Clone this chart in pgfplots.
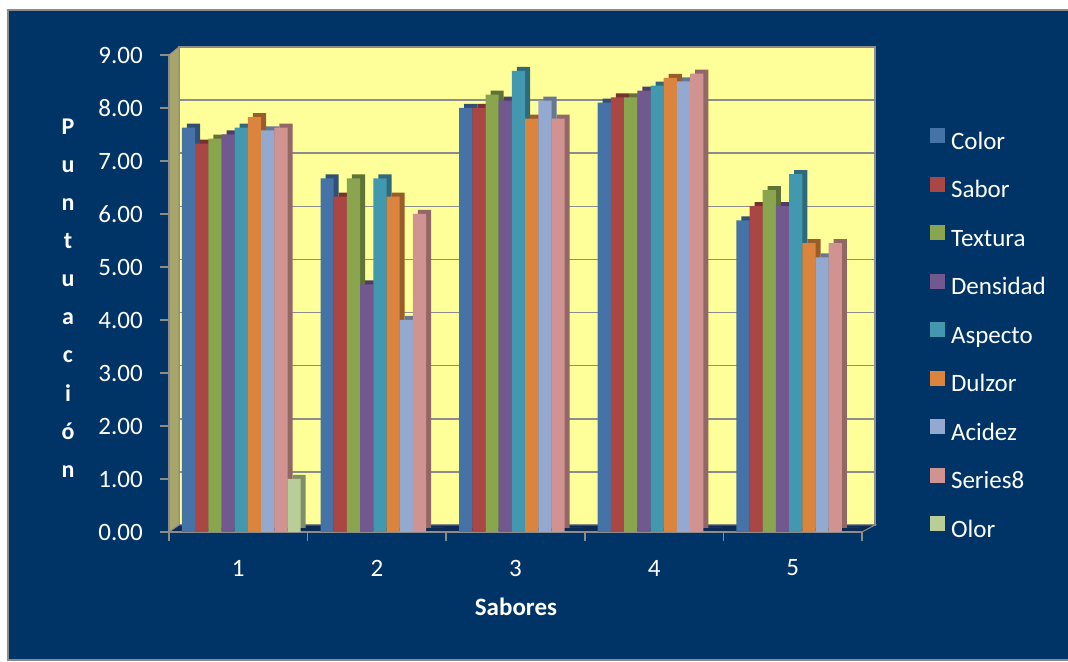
\documentclass[border=0pt]{standalone}
\usepackage{pgfplots}
\pgfplotsset{compat=1.18}
\usepackage{pgfplotstable}
\usepackage{fontspec}
\setmainfont{Carlito}

\definecolor{navy}{HTML}{003366}
\definecolor{floorc}{HTML}{0C2A52}
\definecolor{wally}{HTML}{FFFF99}
\definecolor{wallside}{HTML}{A8A56C}
\definecolor{edge}{HTML}{8C8C8C}
\definecolor{c1}{HTML}{4572A7}
\definecolor{c2}{HTML}{AA4643}
\definecolor{c3}{HTML}{89A54E}
\definecolor{c4}{HTML}{71588F}
\definecolor{c5}{HTML}{4198AF}
\definecolor{c6}{HTML}{DB843D}
\definecolor{c7}{HTML}{93A9CF}
\definecolor{c8}{HTML}{D19392}
\definecolor{c9}{HTML}{B9CD96}

\pgfplotstableread{
x Color Sabor Textura Densidad Aspecto Dulzor Acidez Series8 Olor
1 7.63 7.33 7.42 7.50 7.63 7.83 7.58 7.63 1.00
2 6.67 6.33 6.67 4.67 6.67 6.33 4.00 6.00 0
3 8.00 8.00 8.25 8.14 8.70 7.80 8.14 7.80 0
4 8.10 8.20 8.20 8.33 8.42 8.57 8.50 8.65 0
5 5.88 6.15 6.45 6.15 6.75 5.45 5.18 5.45 0
}\data

\newcommand{\fnt}{\fontsize{25bp}{30bp}\selectfont}

\begin{document}
\begin{tikzpicture}
\path[use as bounding box] (0,0) rectangle (1068bp,662bp);
\fill[white] (0,0) rectangle (1068bp,662bp);
\fill[navy] (8bp,2bp) rectangle (1068bp,652bp);
\draw[edge, line width=1.5bp] (1068bp,2bp) -- (8bp,2bp) -- (8bp,652bp) -- (1068bp,652bp);

% back wall
\begin{axis}[at={(179bp,137bp)}, anchor=south west, scale only axis,
  width=696bp, height=478bp, xmin=0, xmax=1, ymin=0, ymax=9,
  xtick=\empty, ytick={0,...,9}, yticklabels={}, major tick length=0pt,
  ymajorgrids, grid style={edge, line width=1.5bp},
  axis line style={edge, line width=1.5bp},
  axis background/.style={fill=wally}]
\end{axis}

% left wall and floor
\fill[wallside, draw=edge, line width=1bp] (169bp,130bp) -- (179bp,137bp) -- (179bp,615bp) -- (169bp,607bp) -- cycle;
\fill[floorc, draw=edge, line width=1bp] (169bp,130bp) -- (862bp,130bp) -- (875bp,137bp) -- (179bp,137bp) -- cycle;

% shadow (side/top faces)
\begin{axis}[at={(174bp,134bp)}, anchor=south west, scale only axis,
  width=693bp, height=477bp, xmin=0.5, xmax=5.5, ymin=0, ymax=9,
  hide axis, clip=false]
\addplot[ybar, bar width=13.2bp, bar shift=-49.8bp, fill=c1!70!black, draw=none] table[x=x,y=Color] {\data};
\addplot[ybar, bar width=13.2bp, bar shift=-36.6bp, fill=c2!70!black, draw=none] table[x=x,y=Sabor] {\data};
\addplot[ybar, bar width=13.2bp, bar shift=-23.4bp, fill=c3!70!black, draw=none] table[x=x,y=Textura] {\data};
\addplot[ybar, bar width=13.2bp, bar shift=-10.2bp, fill=c4!70!black, draw=none] table[x=x,y=Densidad] {\data};
\addplot[ybar, bar width=13.2bp, bar shift=3bp, fill=c5!70!black, draw=none] table[x=x,y=Aspecto] {\data};
\addplot[ybar, bar width=13.2bp, bar shift=16.2bp, fill=c6!70!black, draw=none] table[x=x,y=Dulzor] {\data};
\addplot[ybar, bar width=13.2bp, bar shift=29.4bp, fill=c7!70!black, draw=none] table[x=x,y=Acidez] {\data};
\addplot[ybar, bar width=13.2bp, bar shift=42.6bp, fill=c8!70!black, draw=none] table[x=x,y=Series8] {\data};
\addplot[ybar, bar width=13.2bp, bar shift=55.8bp, fill=c9!70!black, draw=none] table[x=x,y=Olor] {\data};
\end{axis}

% front
\begin{axis}[at={(169bp,130bp)}, anchor=south west, scale only axis,
  width=693bp, height=477bp, xmin=0.5, xmax=5.5, ymin=0, ymax=9,
  axis x line*=bottom, axis y line*=left,
  axis line style={edge, line width=1.5bp, -},
  tick align=outside, major tick length=9bp,
  tick style={edge, line width=1.5bp},
  ytick={0,...,9},
  yticklabels={0.00,1.00,2.00,3.00,4.00,5.00,6.00,7.00,8.00,9.00},
  yticklabel style={font=\fnt, text=white, anchor=east, inner sep=0pt, xshift=-17bp},
  xtick={0.5,1.5,...,5.5}, xticklabels={},
  extra x ticks={1,2,3,4,5}, extra x tick labels={1,2,3,4,5},
  extra x tick style={major tick length=0pt,
     xticklabel style={font=\fnt, text=white, anchor=center, inner sep=0pt, yshift=-36bp}},
  legend style={at={(axis description cs:1.0982,0.414)}, anchor=west,
     draw=none, fill=none, inner sep=0pt, outer sep=0pt,
     font=\fnt, text=white, row sep=23.5bp, column sep=6bp,
     nodes={inner sep=0pt, text height=16bp, text depth=4bp}},
  legend cell align=left,
  legend image code/.code={\fill[#1] (0bp,0bp) rectangle (15bp,15bp);}]
\addplot[ybar, bar width=13.2bp, bar shift=-49.8bp, fill=c1, draw=none] table[x=x,y=Color] {\data};
\addplot[ybar, bar width=13.2bp, bar shift=-36.6bp, fill=c2, draw=none] table[x=x,y=Sabor] {\data};
\addplot[ybar, bar width=13.2bp, bar shift=-23.4bp, fill=c3, draw=none] table[x=x,y=Textura] {\data};
\addplot[ybar, bar width=13.2bp, bar shift=-10.2bp, fill=c4, draw=none] table[x=x,y=Densidad] {\data};
\addplot[ybar, bar width=13.2bp, bar shift=3bp, fill=c5, draw=none] table[x=x,y=Aspecto] {\data};
\addplot[ybar, bar width=13.2bp, bar shift=16.2bp, fill=c6, draw=none] table[x=x,y=Dulzor] {\data};
\addplot[ybar, bar width=13.2bp, bar shift=29.4bp, fill=c7, draw=none] table[x=x,y=Acidez] {\data};
\addplot[ybar, bar width=13.2bp, bar shift=42.6bp, fill=c8, draw=none] table[x=x,y=Series8] {\data};
\addplot[ybar, bar width=13.2bp, bar shift=55.8bp, fill=c9, draw=none] table[x=x,y=Olor] {\data};
\legend{Color,Sabor,Textura,Densidad,Aspecto,Dulzor,Acidez,Series8,Olor}
\end{axis}

\node[text=white, font=\bfseries\fnt] at (516bp,55bp) {Sabores};
\node[text=white, align=center, font=\bfseries\fontsize{24bp}{38.1bp}\selectfont] at (68bp,364bp) {P\\u\\n\\t\\u\\a\\c\\i\\ó\\n};
\end{tikzpicture}
\end{document}
